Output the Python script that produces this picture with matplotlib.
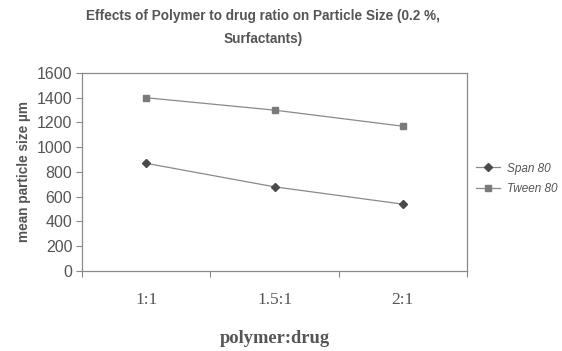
import matplotlib.pyplot as plt
from matplotlib.ticker import FixedLocator, NullFormatter

# data
ratios = ['1:1', '1.5:1', '2:1']
span_80 = [870, 680, 540]
tween_80 = [1400, 1300, 1170]

fig = plt.figure(figsize=(5.62, 3.51), dpi=100)
ax = fig.add_axes([0.146, 0.228, 0.685, 0.564])

x = list(range(len(ratios)))
ax.plot(x, span_80, color='#8a8a8a', lw=0.9, marker='D', ms=4.5,
        mfc='#4a4a4a', mec='#4a4a4a', label='Span 80')
ax.plot(x, tween_80, color='#8a8a8a', lw=0.9, marker='s', ms=4.5,
        mfc='#7a7a7a', mec='#7a7a7a', label='Tween 80')

ax.set_xlim(-0.5, 2.5)
ax.set_ylim(0, 1600)
ax.set_yticks(range(0, 1601, 200))

# category ticks between the groups, labels at the centres
ax.xaxis.set_major_locator(FixedLocator([-0.5, 0.5, 1.5, 2.5]))
ax.xaxis.set_major_formatter(NullFormatter())
ax.xaxis.set_minor_locator(FixedLocator(x))
ax.set_xticklabels(ratios, minor=True, family='Liberation Serif',
                   fontsize=12.5, color='#555555')
ax.tick_params(axis='x', which='major', length=4, color='#888888')
ax.tick_params(axis='x', which='minor', length=0, pad=15)
ax.tick_params(axis='y', length=4, color='#888888', labelsize=11.5,
               labelcolor='#555555', pad=3)
for lab in ax.get_yticklabels():
    lab.set_family('Liberation Sans')

for s in ax.spines.values():
    s.set_color('#8a8a8a')
    s.set_linewidth(0.9)

ax.set_ylabel('mean particle size µm', family='Liberation Sans',
              fontweight='bold', fontsize=9.8, color='#555555', labelpad=4)
ax.set_xlabel('polymer:drug', family='Liberation Serif', fontweight='bold',
              fontsize=13.3, color='#555555', labelpad=16)

fig.text(0.468, 0.922, 'Effects of Polymer to drug ratio on Particle Size (0.2 %,\nSurfactants)',
         ha='center', va='center', family='Liberation Sans', fontweight='bold',
         fontsize=9.8, color='#555555', linespacing=1.8)

leg = fig.legend(loc='center left', bbox_to_anchor=(0.828, 0.49), frameon=False,
                 prop={'family': 'Liberation Sans', 'style': 'italic', 'size': 8.5},
                 handlelength=2.0, labelspacing=0.75, handletextpad=0.6)
for t in leg.get_texts():
    t.set_color('#555555')

fig.savefig('out.png', dpi=100)
